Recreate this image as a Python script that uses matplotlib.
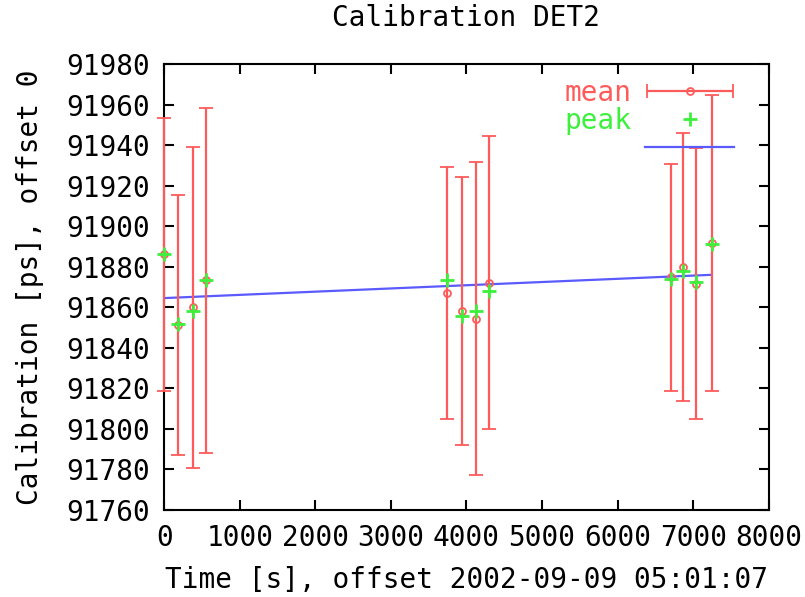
import matplotlib.pyplot as plt
from matplotlib.lines import Line2D
from matplotlib.legend_handler import HandlerErrorbar

# calibration runs: time offset [s], mean with half-width, peak
time_s = [0, 185, 380, 556, 3747, 3946, 4123, 4299, 6702, 6869, 7033, 7245]
mean_ps = [91886.3, 91851.2, 91860.1, 91873.5, 91867.2, 91858.1,
           91854.4, 91872.3, 91874.8, 91879.8, 91871.8, 91891.9]
mean_err = [67.4, 64.2, 79.2, 85.2, 62.4, 66.1, 77.3, 72.4, 55.9, 66.2, 67.0, 73.0]
peak_ps = [91886.2, 91851.9, 91858.0, 91873.7, 91873.3, 91855.6,
           91858.0, 91868.0, 91874.2, 91878.0, 91872.5, 91891.5]

# linear fit end points
fit_x = [0, 7245]
fit_y = [91864.6, 91876.1]

xticks = list(range(0, 8001, 1000))
yticks = list(range(91760, 91981, 20))

red = '#ff5a5a'
green = '#3cf03c'
blue = '#5a5aff'

plt.rcParams['font.family'] = 'DejaVu Sans Mono'
fig = plt.figure(figsize=(8.05, 5.97), dpi=100)
ax = fig.add_axes([0.204, 0.146, 0.751, 0.746])

ax.errorbar(time_s, mean_ps, yerr=mean_err, fmt='o', color=red, mfc='none',
            ms=5, mew=1.3, elinewidth=1.6, capsize=5, capthick=1.6,
            clip_on=False, zorder=3)
ax.plot(time_s, peak_ps, '+', color=green, ms=10, mew=2, clip_on=False, zorder=4)
ax.plot(fit_x, fit_y, color=blue, lw=1.6, zorder=2)

# legend handles
nan = float('nan')
h_mean = ax.errorbar([nan], [nan], xerr=[nan], fmt='o', color=red, mfc='none',
                     ms=5, mew=1.3, elinewidth=1.6, capsize=5, capthick=1.6)
h_peak = Line2D([], [], ls='none', marker='+', color=green, ms=10, mew=2)
h_fit = Line2D([], [], color=blue, lw=1.6)
leg = ax.legend([h_mean, h_peak, h_fit], ['mean', 'peak', ' '], loc='upper right',
                bbox_to_anchor=(0.975, 1.011), frameon=False, markerfirst=False,
                fontsize=20, handlelength=3.2, handletextpad=0.5,
                labelspacing=0.0, borderaxespad=0.5, borderpad=0.2,
                handler_map={h_mean: HandlerErrorbar(xerr_size=1.55)})
for txt, c in zip(leg.get_texts(), [red, green, blue]):
    txt.set_color(c)

ax.set_xlim(0, 8000)
ax.set_ylim(91760, 91980)
ax.set_xticks(xticks)
ax.set_yticks(yticks)
ax.tick_params(direction='in', length=7, width=1.5, top=True, right=True,
               labelsize=20, pad=10)
for s in ax.spines.values():
    s.set_linewidth(1.5)

ax.set_title('Calibration DET2', fontsize=20, pad=28)
ax.set_xlabel('Time [s], offset 2002-09-09 05:01:07', fontsize=20, labelpad=10)
ax.set_ylabel('Calibration [ps], offset 0', fontsize=20, labelpad=16)

plt.savefig('out.png')
